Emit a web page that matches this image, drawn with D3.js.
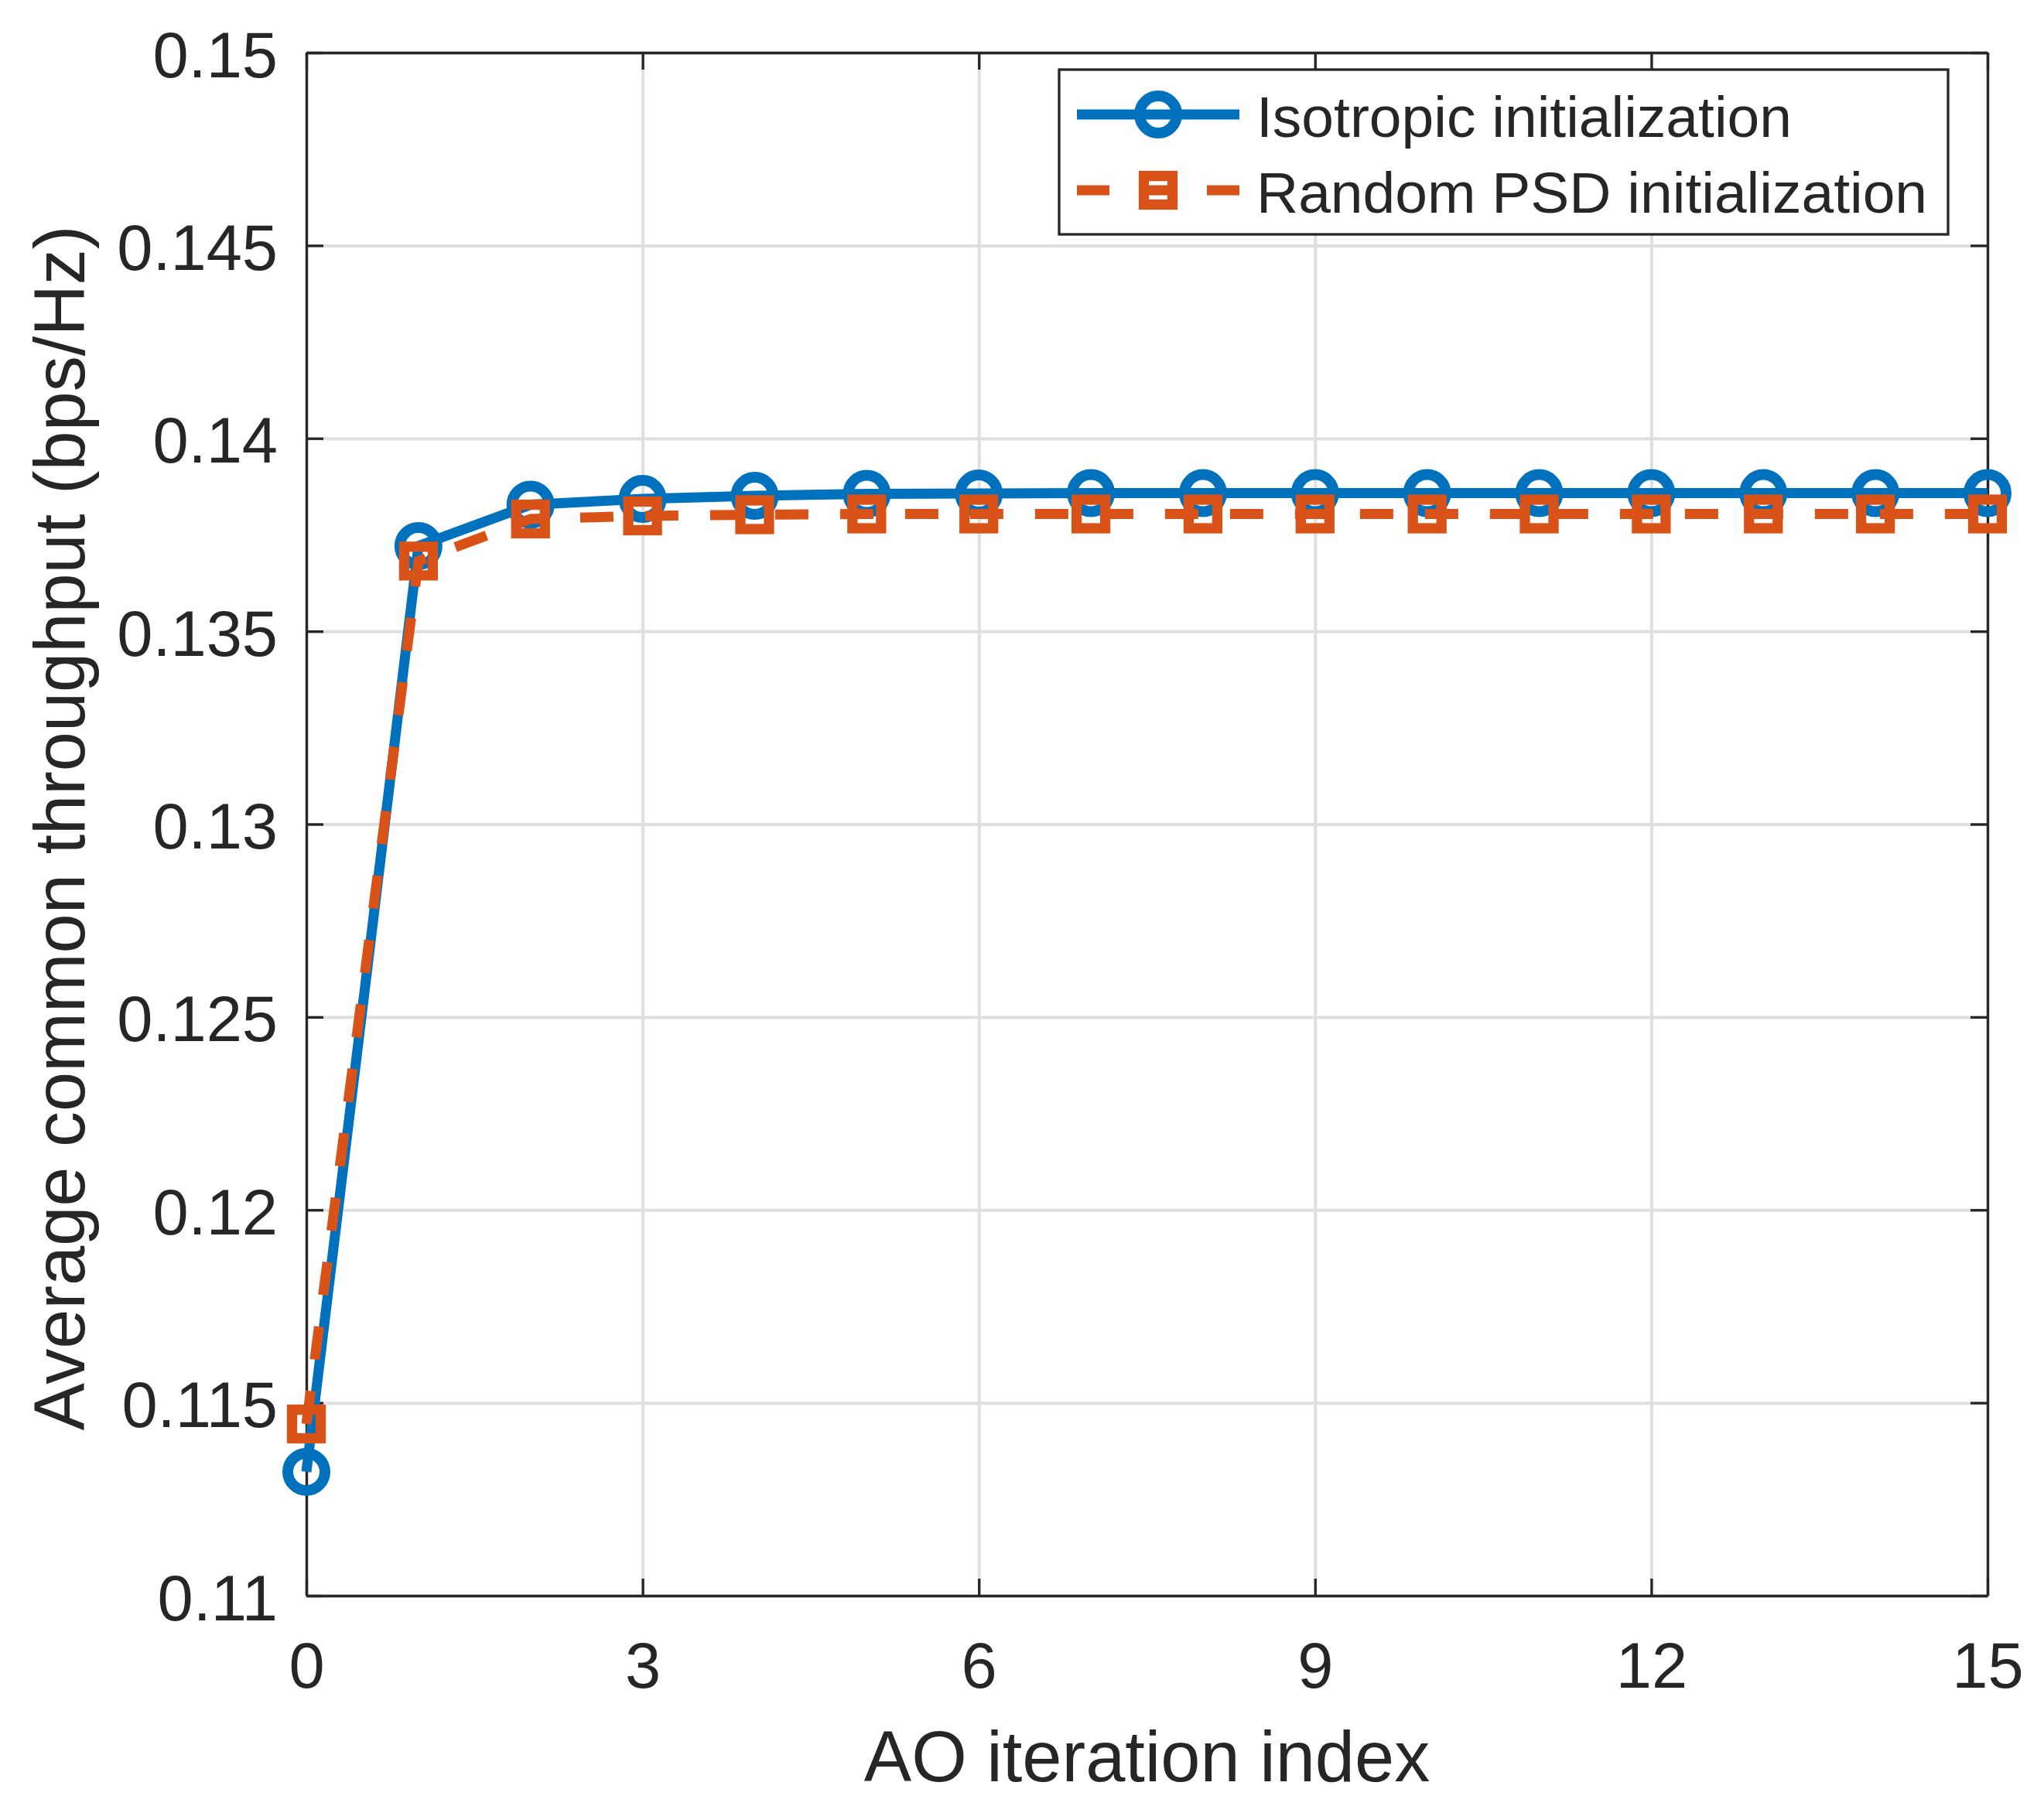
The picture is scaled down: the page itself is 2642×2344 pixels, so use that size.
<!DOCTYPE html>
<html>
<head>
<meta charset="utf-8">
<script src="https://cdn.jsdelivr.net/npm/d3@7"></script>
<style>
  body { margin: 0; background: #fff; }
  text { font-family: "Liberation Sans", Arial, Helvetica, sans-serif; fill: #262626; }
</style>
</head>
<body>
<div id="chart"></div>
<script>
// values
const iterations = [0, 1, 2, 3, 4, 5, 6, 7, 8, 9, 10, 11, 12, 13, 14, 15];
const isotropic = [0.11321, 0.13721, 0.13828, 0.13843, 0.13851, 0.13856, 0.13857, 0.13858,
                   0.13858, 0.13858, 0.13858, 0.13858, 0.13858, 0.13858, 0.13858, 0.13858];
const randomPSD = [0.11445, 0.13682, 0.13791, 0.13799, 0.13802, 0.13804, 0.13804, 0.13804,
                   0.13804, 0.13804, 0.13804, 0.13804, 0.13804, 0.13804, 0.13804, 0.13804];
const seriesNames = ["Isotropic initialization", "Random PSD initialization"];
const xTicks = [0, 3, 6, 9, 12, 15];
const yTicks = [0.11, 0.115, 0.12, 0.125, 0.13, 0.135, 0.14, 0.145, 0.15];
const yTickLabels = ["0.11", "0.115", "0.12", "0.125", "0.13", "0.135", "0.14", "0.145", "0.15"];

(function() {
  var W = 2642, H = 2344;
  var left = 396, right = 2569, top = 68, bottom = 2063;
  var axisColor = "#262626", gridColor = "#dfdfdf";
  var blue = "#0072BD", orange = "#D95319";

  var svg = d3.select("#chart").append("svg")
    .attr("width", W)
    .attr("height", H);

  svg.append("rect").attr("width", W).attr("height", H).attr("fill", "#fff");

  var x = d3.scaleLinear().domain([0, 15]).range([left, right]);
  var y = d3.scaleLinear().domain([0.11, 0.15]).range([bottom, top]);

  // grid
  svg.append("g")
    .attr("transform", `translate(0,${bottom})`)
    .call(d3.axisBottom(x).tickValues(xTicks).tickSize(-(bottom - top)).tickFormat(""))
    .call(g => g.select(".domain").remove())
    .call(g => g.selectAll("line").attr("stroke", gridColor).attr("stroke-width", 4));
  svg.append("g")
    .attr("transform", `translate(${left},0)`)
    .call(d3.axisLeft(y).tickValues(yTicks).tickSize(-(right - left)).tickFormat(""))
    .call(g => g.select(".domain").remove())
    .call(g => g.selectAll("line").attr("stroke", gridColor).attr("stroke-width", 4));

  // axes box with inward ticks
  var tl = 22;
  function styleAxis(g) {
    g.select(".domain").attr("stroke", axisColor).attr("stroke-width", 3.3);
    g.selectAll(".tick line").attr("stroke", axisColor).attr("stroke-width", 3.3);
    g.selectAll(".tick text").attr("font-size", 83).attr("fill", axisColor)
      .attr("font-family", '"Liberation Sans", Arial, sans-serif');
  }
  svg.append("g")
    .attr("transform", `translate(0,${bottom})`)
    .call(d3.axisBottom(x).tickValues(xTicks).tickSizeInner(-tl).tickSizeOuter(0).tickPadding(0))
    .call(styleAxis)
    .call(g => g.selectAll(".tick text").attr("dy", null).attr("y", 119));
  svg.append("g")
    .attr("transform", `translate(0,${top})`)
    .call(d3.axisTop(x).tickValues(xTicks).tickSizeInner(-tl).tickSizeOuter(0).tickFormat(""))
    .call(styleAxis);
  svg.append("g")
    .attr("transform", `translate(${left},0)`)
    .call(d3.axisLeft(y).tickValues(yTicks).tickSizeInner(-tl).tickSizeOuter(0)
      .tickFormat((d, i) => yTickLabels[i]))
    .call(styleAxis)
    .call(g => g.selectAll(".tick text").attr("x", -37).attr("dy", null).attr("y", 31));
  svg.append("g")
    .attr("transform", `translate(${right},0)`)
    .call(d3.axisRight(y).tickValues(yTicks).tickSizeInner(-tl).tickSizeOuter(0).tickFormat(""))
    .call(styleAxis);

  // axis labels
  svg.append("text")
    .attr("x", (left + right) / 2)
    .attr("y", 2303)
    .attr("text-anchor", "middle")
    .attr("font-size", 92)
    .text("AO iteration index");
  svg.append("text")
    .attr("transform", `translate(109,${(top + bottom) / 2 + 5}) rotate(-90)`)
    .attr("text-anchor", "middle")
    .attr("font-size", 92)
    .text("Average common throughput (bps/Hz)");

  // series
  var line = d3.line().x(d => x(d[0])).y(d => y(d[1]));
  var isoPts = iterations.map((d, i) => [d, isotropic[i]]);
  var psdPts = iterations.map((d, i) => [d, randomPSD[i]]);

  svg.append("path").datum(isoPts)
    .attr("d", line).attr("fill", "none")
    .attr("stroke", blue).attr("stroke-width", 13).attr("stroke-linejoin", "round");
  svg.append("g").selectAll("circle").data(isoPts).join("circle")
    .attr("cx", d => x(d[0])).attr("cy", d => y(d[1])).attr("r", 24)
    .attr("fill", "none").attr("stroke", blue).attr("stroke-width", 14);

  svg.append("path").datum(psdPts)
    .attr("d", line).attr("fill", "none")
    .attr("stroke", orange).attr("stroke-width", 13)
    .attr("stroke-dasharray", "43,41");
  var sq = 37;
  svg.append("g").selectAll("rect").data(psdPts).join("rect")
    .attr("x", d => x(d[0]) - sq / 2).attr("y", d => y(d[1]) - sq / 2)
    .attr("width", sq).attr("height", sq)
    .attr("fill", "none").attr("stroke", orange).attr("stroke-width", 13.3);

  // legend
  var leg = svg.append("g");
  leg.append("rect")
    .attr("x", 1369).attr("y", 90).attr("width", 2518 - 1369).attr("height", 303 - 90)
    .attr("fill", "#fff").attr("stroke", axisColor).attr("stroke-width", 3.3);
  var rows = [148, 246];
  var lx0 = 1392, lx1 = 1602, mx = 1497;
  leg.append("line").attr("x1", lx0).attr("x2", lx1).attr("y1", rows[0]).attr("y2", rows[0])
    .attr("stroke", blue).attr("stroke-width", 13);
  leg.append("circle").attr("cx", mx).attr("cy", rows[0]).attr("r", 24)
    .attr("fill", "none").attr("stroke", blue).attr("stroke-width", 14);
  leg.append("line").attr("x1", lx0).attr("x2", lx1).attr("y1", rows[1]).attr("y2", rows[1])
    .attr("stroke", orange).attr("stroke-width", 13).attr("stroke-dasharray", "42,42");
  leg.append("rect").attr("x", mx - sq / 2).attr("y", rows[1] - sq / 2)
    .attr("width", sq).attr("height", sq)
    .attr("fill", "none").attr("stroke", orange).attr("stroke-width", 13.3);
  leg.selectAll("text.lbl").data(seriesNames).join("text")
    .attr("class", "lbl")
    .attr("x", 1624)
    .attr("y", (d, i) => rows[i] + 29)
    .attr("font-size", 75)
    .text(d => d);
})();
</script>
</body>
</html>
